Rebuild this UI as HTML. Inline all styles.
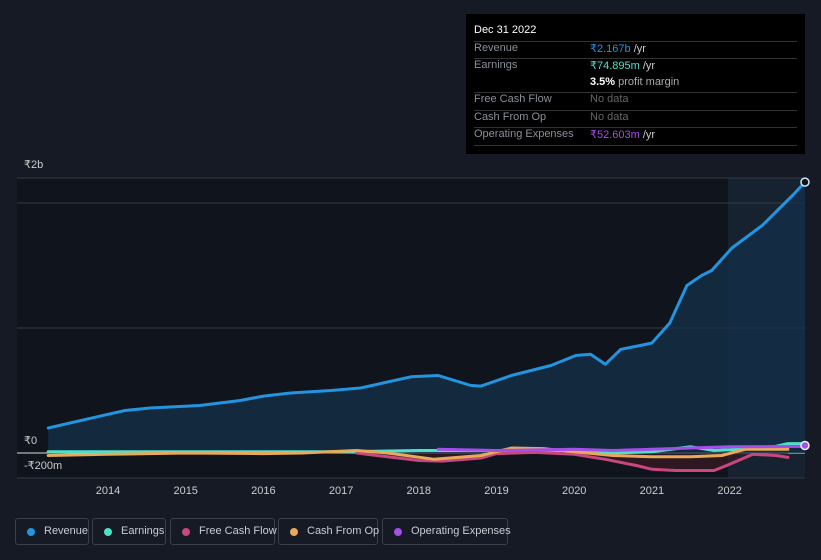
<!DOCTYPE html>
<html><head><meta charset="utf-8">
<style>
body{margin:0;background:#151a24;font-family:"Liberation Sans",sans-serif;}
#wrap{position:relative;width:821px;height:560px;overflow:hidden;background:#151a24;}
.tt{position:absolute;left:466px;top:14px;width:339px;height:140px;background:#000;font-size:11px;}
.tt .row{position:absolute;left:8px;right:8px;height:17px;border-top:1px solid #333;color:#8a8f98;}
.tt .row span.v{position:absolute;left:116px;white-space:nowrap;}
.leg{position:absolute;top:518px;height:27px;border:1px solid #3a3f4a;border-radius:3px;color:#c9ccd2;font-size:11px;line-height:25px;box-sizing:border-box;white-space:nowrap;}
.leg i{position:absolute;left:11px;top:9px;width:8px;height:8px;border-radius:50%;}
.leg span{position:absolute;left:28px;white-space:nowrap;}
</style></head><body>
<div id="wrap">
<svg id="chart" width="821" height="560" style="position:absolute;left:0;top:0"></svg>
<div class="tt">
 <div style="position:absolute;left:8px;top:10px;color:#fff;font-size:11px">Dec 31 2022</div>
 <div class="row" style="top:27px">Revenue<span class="v" style="color:#2394df">₹2.167b <span style="color:#ccc">/yr</span></span></div>
 <div class="row" style="top:44px;height:34px">Earnings<span class="v" style="color:#4fe0c8">₹74.895m <span style="color:#ccc">/yr</span></span><span class="v" style="top:17px;color:#fff;font-weight:bold">3.5% <span style="color:#aaa;font-weight:normal">profit margin</span></span></div>
 <div class="row" style="top:78px">Free Cash Flow<span class="v" style="color:#666">No data</span></div>
 <div class="row" style="top:96px">Cash From Op<span class="v" style="color:#666">No data</span></div>
 <div class="row" style="top:113px;border-bottom:1px solid #333">Operating Expenses<span class="v" style="color:#a54ee8">₹52.603m <span style="color:#ccc">/yr</span></span></div>
</div>
<div class="leg" style="left:15px;width:74px"><i style="background:#2394df"></i><span>Revenue</span></div>
<div class="leg" style="left:92px;width:74px"><i style="background:#4fe0c8"></i><span>Earnings</span></div>
<div class="leg" style="left:170px;width:105px"><i style="background:#c8477f"></i><span>Free Cash Flow</span></div>
<div class="leg" style="left:278px;width:100px"><i style="background:#e8a95a"></i><span>Cash From Op</span></div>
<div class="leg" style="left:382px;width:126px"><i style="background:#a54ee8"></i><span>Operating Expenses</span></div>
</div>
<script>
const revDates=[2013.23,2014,2014.22,2014.54,2015.18,2015.7,2016,2016.35,2016.87,2017.25,2017.9,2018.25,2018.67,2018.8,2019.19,2019.7,2020.02,2020.21,2020.4,2020.6,2020.85,2021,2021.23,2021.45,2021.64,2021.77,2022.03,2022.42,2022.68,2022.81,2022.97];
const revVals=[0.2,0.31,0.34,0.36,0.38,0.42,0.455,0.48,0.5,0.52,0.61,0.62,0.54,0.535,0.62,0.70,0.78,0.79,0.71,0.83,0.86,0.88,1.04,1.34,1.42,1.46,1.64,1.82,1.98,2.06,2.167];
const earnDates=[2013.23,2015,2017,2018,2019,2020,2020.5,2021,2021.5,2021.8,2022.5,2022.75,2022.97];
const earnVals=[0.01,0.01,0.01,0.02,0.02,0.02,0.0,0.01,0.05,0.02,0.04,0.075,0.075];
const fcfDates=[2017.2,2017.6,2018.0,2018.3,2018.8,2019.0,2019.5,2020.0,2020.4,2020.8,2021.0,2021.3,2021.8,2022.0,2022.3,2022.6,2022.75];
const fcfVals=[0.0,-0.03,-0.06,-0.065,-0.04,-0.005,0.005,-0.01,-0.05,-0.1,-0.13,-0.14,-0.14,-0.09,-0.01,-0.02,-0.035];
const cfoDates=[2013.23,2014,2015,2016,2016.5,2017.2,2017.6,2018.2,2018.8,2019.2,2019.6,2020.0,2020.5,2021.0,2021.5,2021.9,2022.2,2022.75];
const cfoVals=[-0.02,-0.01,0,-0.005,0,0.02,0.0,-0.05,-0.02,0.04,0.035,0.01,-0.02,-0.03,-0.03,-0.02,0.03,0.03];
const opxDates=[2018.25,2019,2020,2020.5,2021,2022,2022.97];
const opxVals=[0.03,0.02,0.03,0.02,0.03,0.05,0.053];
const xTicks=[2014,2015,2016,2017,2018,2019,2020,2021,2022];
const yTicks=[2.2,2,1,0,-0.2];

const X=d=>108+(d-2014)*77.7;
const Y=v=>453-v*125;
const svg=document.getElementById('chart');
const NS='http://www.w3.org/2000/svg';
function mk(t,a){const e=document.createElementNS(NS,t);for(const k in a)e.setAttribute(k,a[k]);svg.appendChild(e);return e;}
function path(ds,vs){return ds.map((d,i)=>(i?'L':'M')+X(d).toFixed(1)+','+Y(vs[i]).toFixed(1)).join('');}

let r=mk('rect',{x:17,y:178,width:711,height:300,fill:'#10141c'});


r=mk('rect',{x:728,y:178,width:77,height:300,fill:'#172231'});



yTicks.forEach(v=>{const l=mk('line',{x1:17,x2:805,y1:Y(v),y2:Y(v),stroke:v===0?'#ddd':'#333a45','stroke-width':1});

});
[[2,'₹2b',168],[0,'₹0',444],[-0.2,'-₹200m',469]].forEach(a=>{const t=mk('text',{x:24,y:a[2],fill:'#ccc','font-size':11});t.textContent=a[1];

});
xTicks.forEach(y=>{const t=mk('text',{x:X(y),y:494,fill:'#ccc','font-size':11,'text-anchor':'middle'});t.textContent=y;

});

let a=mk('path',{d:path(revDates,revVals)+'L'+X(revDates[revDates.length-1])+','+Y(0)+'L'+X(revDates[0])+','+Y(0)+'Z',fill:'#14304a','fill-opacity':0.75});


a=mk('path',{d:path(fcfDates,fcfVals)+'L'+X(fcfDates[fcfDates.length-1])+','+Y(0)+'L'+X(fcfDates[0])+','+Y(0)+'Z',fill:'#3a1a24','fill-opacity':0.7});



const series=[['earnings-line',earnDates,earnVals,'#4fe0c8'],['fcf-line',fcfDates,fcfVals,'#c8477f'],['cfo-line',cfoDates,cfoVals,'#e8a95a'],['opex-line',opxDates,opxVals,'#a54ee8'],['revenue-line',revDates,revVals,'#2394df']];
series.forEach(s=>{const p=mk('path',{d:path(s[1],s[2]),fill:'none',stroke:s[3],'stroke-width':3,'stroke-linejoin':'round','stroke-linecap':'round'});

});
let c=mk('circle',{cx:X(revDates[revDates.length-1]),cy:Y(revVals[revVals.length-1]),r:4,fill:'#10141c',stroke:'#cfe8ff','stroke-width':1.5});


c=mk('circle',{cx:X(opxDates[opxDates.length-1]),cy:Y(0.06),r:4,fill:'#a54ee8',stroke:'#eee','stroke-width':1.5});


</script>
</body></html>
